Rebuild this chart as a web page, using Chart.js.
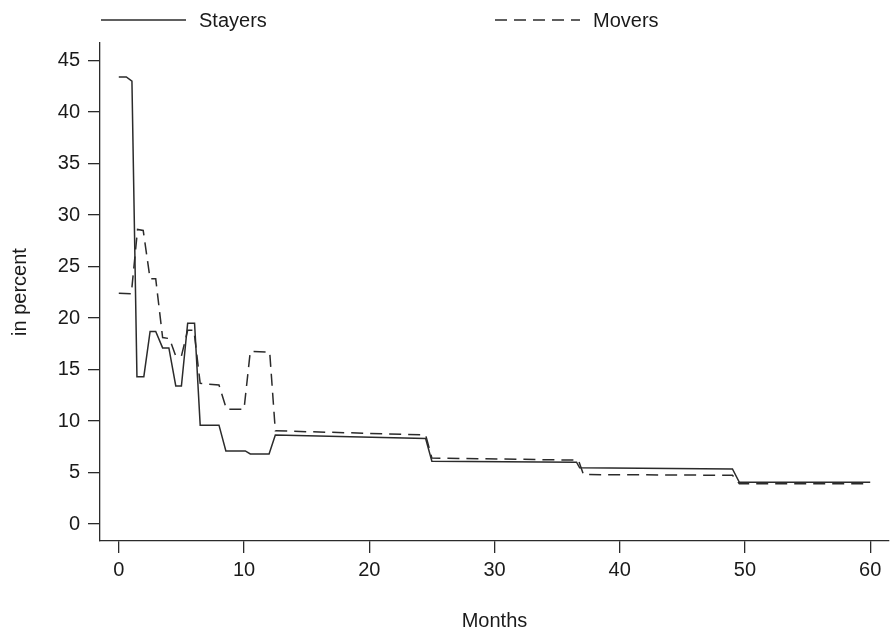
<!DOCTYPE html>
<html>
<head>
<meta charset="utf-8">
<script src="https://cdn.jsdelivr.net/npm/chart.js@4"></script>
<style>
  html, body { margin: 0; padding: 0; background: #fff; }
  #wrap { width: 891px; height: 634px; }
</style>
</head>
<body>
<div id="wrap"><canvas id="chart" width="891" height="634"></canvas></div>
<script>
const xTicks = [0, 10, 20, 30, 40, 50, 60];
const yTicks = [0, 5, 10, 15, 20, 25, 30, 35, 40, 45];

const stayerMonths = [0, 0.6, 1.05, 1.45, 2.0, 2.5, 2.95, 3.5, 4.0, 4.55, 5.0, 5.5, 6.05, 6.5, 8.0, 8.55, 10.1, 10.5, 12.0, 12.5, 24.5, 25.0, 36.55, 36.8, 49.0, 49.55, 60];
const stayerValues = [43.4, 43.4, 43.0, 14.3, 14.3, 18.7, 18.7, 17.1, 17.1, 13.4, 13.4, 19.5, 19.5, 9.6, 9.6, 7.1, 7.1, 6.8, 6.8, 8.65, 8.3, 6.1, 6.0, 5.45, 5.35, 4.05, 4.05];

const moverMonths = [0, 1.0, 1.5, 1.95, 2.5, 2.95, 3.5, 4.05, 4.55, 5.0, 5.5, 6.0, 6.5, 8.0, 8.6, 10.0, 10.5, 12.05, 12.5, 24.5, 25.0, 36.7, 37.1, 49.0, 49.55, 60];
const moverValues = [22.4, 22.35, 28.6, 28.5, 23.8, 23.8, 18.1, 18.0, 16.3, 16.3, 18.8, 18.8, 13.65, 13.5, 11.15, 11.15, 16.75, 16.7, 9.05, 8.65, 6.4, 6.2, 4.8, 4.73, 3.92, 3.9];

const ink = '#2b2b2b';
const fontFamily = '"Liberation Sans", Arial, Helvetica, sans-serif';
const fontSize = 20;

function toPoints(xs, ys) {
  return xs.map((x, i) => ({ x: x, y: ys[i] }));
}

// legend drawn above the plot, like the original figure
const topLegend = {
  id: 'topLegend',
  afterDraw(chart, args, opts) {
    const ctx = chart.ctx;
    ctx.save();
    chart.data.datasets.forEach((ds, i) => {
      const it = opts.items[i];
      ctx.strokeStyle = ds.borderColor;
      ctx.lineWidth = ds.borderWidth;
      ctx.setLineDash(ds.borderDash || []);
      ctx.beginPath();
      ctx.moveTo(it.x1, opts.y);
      ctx.lineTo(it.x2, opts.y);
      ctx.stroke();
      ctx.setLineDash([]);
      ctx.fillStyle = '#1a1a1a';
      ctx.font = fontSize + 'px ' + fontFamily;
      ctx.textBaseline = 'middle';
      ctx.fillText(ds.label, it.tx, opts.y + 1);
    });
    ctx.restore();
  }
};

const chart = new Chart(document.getElementById('chart').getContext('2d'), {
  type: 'line',
  data: {
    datasets: [
      {
        label: 'Stayers',
        data: toPoints(stayerMonths, stayerValues),
        borderColor: ink,
        borderWidth: 1.5,
        pointRadius: 0,
        tension: 0
      },
      {
        label: 'Movers',
        data: toPoints(moverMonths, moverValues),
        borderColor: ink,
        borderWidth: 1.5,
        borderDash: [12, 7],
        pointRadius: 0,
        tension: 0
      }
    ]
  },
  options: {
    responsive: false,
    animation: false,
    layout: { padding: { top: 43, right: 2, left: 0, bottom: 0 } },
    plugins: {
      legend: { display: false },
      tooltip: { enabled: false },
      topLegend: {
        y: 20,
        items: [
          { x1: 101, x2: 186, tx: 199 },
          { x1: 495, x2: 580, tx: 593 }
        ]
      }
    },
    scales: {
      x: {
        type: 'linear',
        min: -1.5,
        max: 61.5,
        afterBuildTicks: s => { s.ticks = xTicks.map(v => ({ value: v })); },
        afterFit: s => { s.height = 93; },
        grid: { drawOnChartArea: false, drawTicks: true, tickLength: 12, color: ink, lineWidth: 1.3 },
        border: { display: true, color: ink, width: 1.3 },
        ticks: { color: '#1a1a1a', font: { family: fontFamily, size: fontSize }, padding: 5, maxRotation: 0 },
        title: { display: true, text: 'Months', color: '#1a1a1a', font: { family: fontFamily, size: fontSize }, padding: { top: 0, bottom: 1 } }
      },
      y: {
        min: -1.65,
        max: 46.7,
        afterBuildTicks: s => { s.ticks = yTicks.map(v => ({ value: v })); },
        afterFit: s => { s.width = 100; },
        grid: { drawOnChartArea: false, drawTicks: true, tickLength: 12, color: ink, lineWidth: 1.3 },
        border: { display: true, color: ink, width: 1.3 },
        ticks: { color: '#1a1a1a', font: { family: fontFamily, size: fontSize }, padding: 8 },
        title: { display: true, text: 'in percent', color: '#1a1a1a', font: { family: fontFamily, size: fontSize }, padding: { top: 8, bottom: 0 } }
      }
    }
  },
  plugins: [topLegend]
});
</script>
</body>
</html>
